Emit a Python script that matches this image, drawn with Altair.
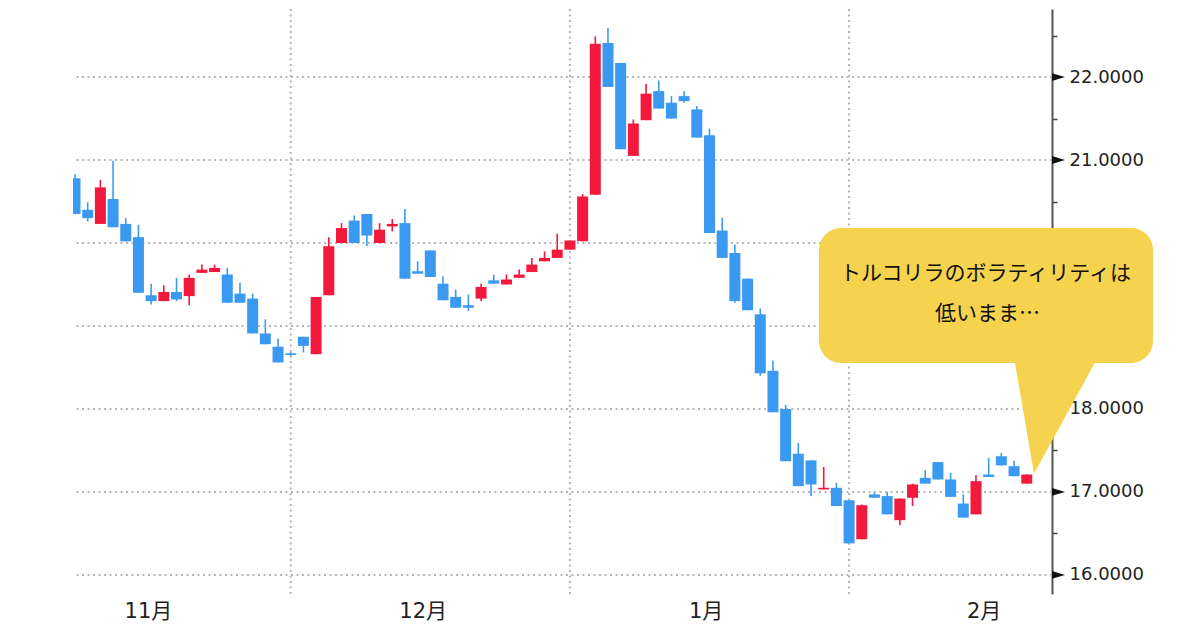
import altair as alt
import pandas as pd

# ---- candle data (index = trading day) ----
opens  = [20.78, 20.40, 20.23, 20.53, 20.23, 20.07, 19.37, 19.30, 19.41, 19.36,
          19.64, 19.65, 19.62, 19.39, 19.33, 18.91, 18.75, 18.67, 18.87, 18.66,
          19.37, 20.00, 20.27, 20.35, 20.00, 20.20, 20.24, 19.66, 19.91, 19.51,
          19.35, 19.25, 19.33, 19.55, 19.50, 19.58, 19.65, 19.78, 19.82, 19.92,
          20.02, 20.58, 22.41, 22.17, 21.05, 21.48, 21.83, 21.69, 21.77, 21.61,
          21.30, 20.15, 19.88, 19.57, 19.14, 18.46, 18.00, 17.46, 17.38, 17.03,
          17.05, 16.90, 16.43, 16.97, 16.95, 16.66, 16.93, 17.17, 17.36, 17.15,
          16.86, 16.73, 17.21, 17.43, 17.31, 17.10]
highs  = [20.83, 20.49, 20.76, 20.99, 20.30, 20.22, 19.51, 19.49, 19.58, 19.62,
          19.74, 19.74, 19.70, 19.52, 19.39, 19.08, 18.85, 18.69, 18.87, 19.35,
          20.07, 20.24, 20.33, 20.35, 20.24, 20.29, 20.41, 19.78, 19.91, 19.60,
          19.44, 19.38, 19.51, 19.62, 19.62, 19.68, 19.82, 19.90, 20.11, 20.03,
          20.59, 22.49, 22.59, 22.17, 21.49, 21.92, 21.96, 21.77, 21.83, 21.65,
          21.38, 20.30, 19.98, 19.57, 19.21, 18.58, 18.05, 17.59, 17.38, 17.30,
          17.11, 16.90, 16.85, 17.01, 17.00, 16.92, 17.10, 17.26, 17.36, 17.23,
          16.97, 17.20, 17.41, 17.47, 17.38, 17.21]
lows   = [20.35, 20.26, 20.23, 20.19, 20.02, 19.40, 19.26, 19.30, 19.30, 19.25,
          19.64, 19.65, 19.28, 19.28, 18.91, 18.78, 18.56, 18.62, 18.68, 18.66,
          19.37, 20.00, 20.00, 19.96, 20.00, 20.14, 19.57, 19.63, 19.59, 19.31,
          19.22, 19.18, 19.30, 19.51, 19.50, 19.58, 19.65, 19.78, 19.82, 19.92,
          20.02, 20.58, 21.88, 21.13, 21.05, 21.48, 21.62, 21.50, 21.69, 21.27,
          20.12, 19.82, 19.28, 19.19, 18.40, 17.96, 17.37, 17.07, 16.95, 17.03,
          16.83, 16.37, 16.43, 16.93, 16.73, 16.60, 16.83, 17.10, 17.15, 16.94,
          16.69, 16.73, 17.18, 17.32, 17.19, 17.10]
closes = [20.35, 20.30, 20.67, 20.19, 20.02, 19.40, 19.30, 19.41, 19.32, 19.58,
          19.68, 19.70, 19.28, 19.28, 18.91, 18.78, 18.56, 18.65, 18.76, 19.35,
          19.96, 20.18, 20.00, 20.09, 20.16, 20.23, 19.57, 19.63, 19.59, 19.31,
          19.22, 19.22, 19.47, 19.51, 19.56, 19.62, 19.74, 19.82, 19.92, 20.03,
          20.56, 22.40, 21.88, 21.13, 21.44, 21.80, 21.62, 21.50, 21.71, 21.27,
          20.12, 19.82, 19.30, 19.19, 18.43, 17.96, 17.37, 17.07, 17.09, 17.05,
          16.83, 16.38, 16.84, 16.93, 16.73, 16.92, 17.09, 17.10, 17.15, 16.94,
          16.69, 17.13, 17.18, 17.32, 17.19, 17.21]

month_labels = ["11月", "12月", "1月", "2月"]
month_pos = [5.75, 27.4, 49.7, 71.6]
vgrid_pos = [17, 39, 61]
hgrid_vals = [16, 17, 18, 19, 20, 21, 22]
minor_vals = [16.5, 17.5, 18.5, 19.5, 20.5, 21.5, 22.5]
callout_lines = ["トルコリラのボラティリティは", "低いまま…"]

RED = "#F2193C"
BLUE = "#3A9AF2"
YELLOW = "#F5D34F"

df = pd.DataFrame({"i": list(range(len(opens))), "open": opens, "high": highs,
                   "low": lows, "close": closes})
df["dir"] = ["up" if c >= o else "down" for o, c in zip(opens, closes)]

xs = alt.Scale(domain=[-0.158, 76.99], nice=False, zero=False, padding=0)
ys = alt.Scale(domain=[15.77, 22.82], nice=False, zero=False, padding=0)
color = alt.Color("dir:N", scale=alt.Scale(domain=["up", "down"], range=[RED, BLUE]), legend=None)

# month label expression
expr = "''"
for p, l in reversed(list(zip(month_pos, month_labels))):
    expr = f"abs(datum.value-{p})<0.5 ? '{l}' : {expr}"

xaxis = alt.Axis(values=month_pos, labelExpr=expr, grid=False, ticks=False, domain=False,
                 labelFont="DejaVu Sans, Noto Sans CJK JP", labelFontSize=21, labelColor="#222",
                 labelPadding=6, title=None, labelFlush=False, labelOverlap=False, labelBound=False)
yaxis = alt.Axis(orient="right", values=hgrid_vals + minor_vals,
                 labelExpr="datum.value % 1 == 0 ? format(datum.value, '.4f') : ''",
                 grid=False, ticks=True, tickSize=5, tickColor="#444", tickWidth=1.5,
                 domain=True, domainColor="#555", domainWidth=2,
                 labelPadding=12, labelFont="DejaVu Sans", labelFontSize=18, labelColor="#222",
                 labelBaseline="middle", labelOverlap=False, title=None)


def X(field):
    return alt.X(field, scale=xs, axis=xaxis, title=None)


def Y(field):
    return alt.Y(field, scale=ys, axis=yaxis, title=None)


wicks = alt.Chart(df).mark_rule(strokeWidth=1.6, clip=True).encode(
    x=X("i:Q"), y=Y("low:Q"), y2="high:Q", color=color,
)
bodies = alt.Chart(df).mark_bar(size=11, clip=True).encode(
    x=X("i:Q"), y=Y("open:Q"), y2="close:Q", color=color,
)

hgrid = alt.Chart(pd.DataFrame({"v": hgrid_vals})).mark_rule(
    color="#b5b5b5", strokeDash=[2, 3.5], strokeWidth=2
).encode(y=Y("v:Q"))

vgrid = alt.Chart(pd.DataFrame({"p": vgrid_pos})).mark_rule(
    color="#b5b5b5", strokeDash=[2, 3.5], strokeWidth=2
).encode(x=X("p:Q"))

tri = alt.Chart(pd.DataFrame({"v": hgrid_vals, "x": [77.5] * len(hgrid_vals)})).mark_point(
    shape="M-1,-0.6L1,0L-1,0.6Z", size=169, filled=True, color="#111", opacity=1, strokeWidth=0
).encode(x=X("x:Q"), y=Y("v:Q"))

# callout bubble
bubble = alt.Chart(pd.DataFrame({"x1": [58.63], "x2": [84.95], "y1": [20.18], "y2": [18.555]})).mark_rect(
    cornerRadius=22, color=YELLOW
).encode(x=X("x1:Q"), x2="x2:Q", y=Y("y1:Q"), y2="y2:Q")

tail = alt.Chart(pd.DataFrame({"tx": [74.0, 75.57, 80.6],
                               "ty": [18.62, 17.22, 18.62],
                               "ty2": [18.62, 18.62, 18.62]})).mark_area(
    color=YELLOW, interpolate="linear"
).encode(x=X("tx:Q"), y=Y("ty:Q"), y2="ty2:Q")

text = alt.Chart(pd.DataFrame({"t": callout_lines, "x": [71.75, 71.9], "y": [19.627, 19.145]})).mark_text(
    font="Noto Sans CJK JP", fontSize=21, color="#111", align="center", baseline="middle"
).encode(x=X("x:Q"), y=Y("y:Q"), text="t:N")

chart = alt.layer(wicks, hgrid, vgrid, bodies, tri, bubble, tail, text).properties(
    width=979, height=585,
    padding={"left": 64, "top": 0, "right": 5, "bottom": 5},
    background="white",
).configure_view(stroke=None)

chart.save("out.html", embed_options={"renderer": "svg", "actions": False})
